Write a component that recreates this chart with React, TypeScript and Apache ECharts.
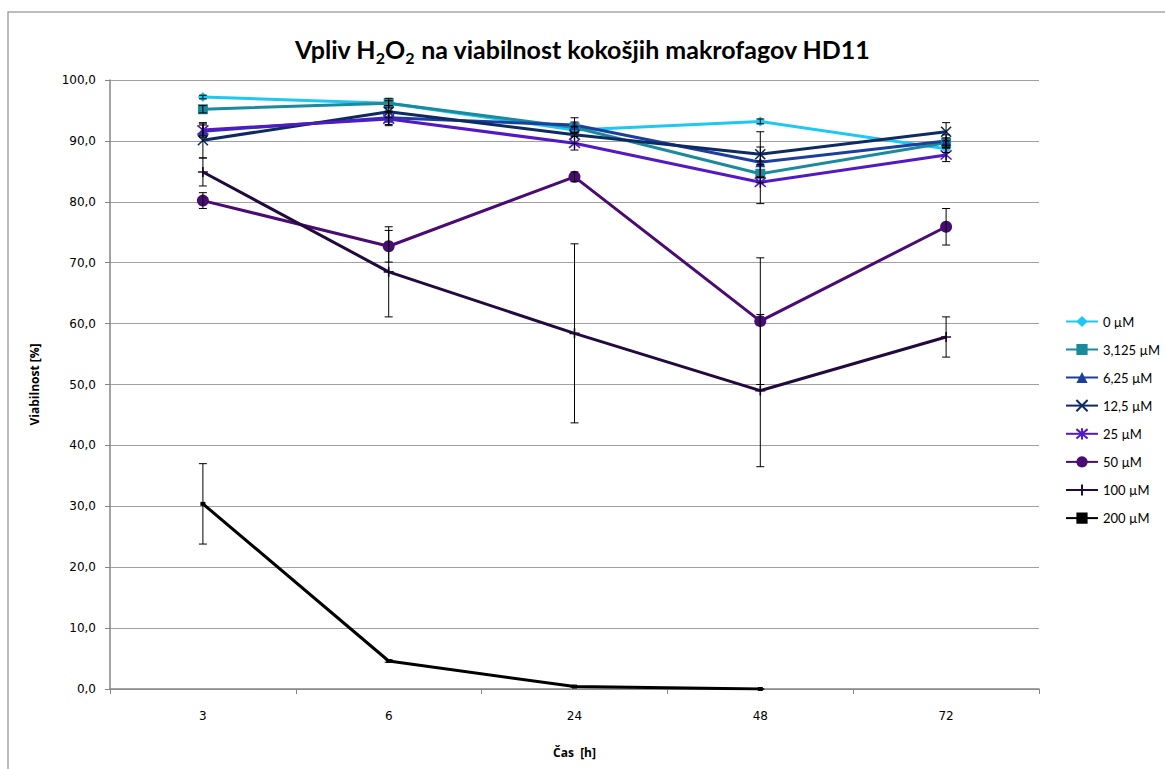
import React, { useEffect, useRef } from "react";
import * as echarts from "echarts";

const categories = ["3", "6", "24", "48", "72"];
const seriesNames = ["0 µM", "3,125 µM", "6,25 µM", "12,5 µM", "25 µM", "50 µM", "100 µM", "200 µM"];

const v0 = [97.2, 96.2, 91.8, 93.2, 88.7];
const v3125 = [95.2, 96.2, 92.2, 84.6, 89.7];
const v625 = [91.6, 93.8, 92.6, 86.5, 90.0];
const v125 = [90.1, 94.8, 91.0, 87.8, 91.5];
const v25 = [91.8, 93.6, 89.6, 83.2, 87.7];
const v50 = [80.2, 72.7, 84.1, 60.4, 75.9];
const v100 = [84.9, 68.5, 58.4, 49.0, 57.8];
const v200 = [30.4, 4.6, 0.4, 0.0, null];

const e0 = [0.3, 0.4, 0.5, 0.4, 0.6];
const e3125 = [0.6, 0.8, 0.9, 1.5, 0.8];
const e625 = [1.0, 1.1, 1.2, 2.5, 1.0];
const e125 = [2.9, 1.0, 1.4, 3.7, 1.5];
const e25 = [1.0, 1.1, 1.1, 3.5, 1.1];
const e50 = [1.3, 2.6, 0.8, 10.4, 3.0];
const e100 = [2.3, 7.4, 14.7, 12.5, 3.3];
const e200 = [6.6, 0.2, 0.1, 0.0, null];

const yTicks = [0, 10, 20, 30, 40, 50, 60, 70, 80, 90, 100];

const values = [v0, v3125, v625, v125, v25, v50, v100, v200];
const errors = [e0, e3125, e625, e125, e25, e50, e100, e200];

const colors = ["#1dc8f3", "#1a8a9c", "#1c3e9e", "#0e2a62", "#5219c4", "#4a0c72", "#220a3e", "#000000"];
const symbols = [
  "diamond",
  "rect",
  "triangle",
  "path://M0,0L10,10M10,0L0,10",
  "path://M0,0L10,10M10,0L0,10M5,-1L5,11",
  "circle",
  "path://M5,0L5,10M0,5L10,5",
  "rect",
];
const symbolSizes: any[] = [10, 10, 10, 10, 11, 12, 10, [5, 4]];

export default function App() {
  const ref = useRef<HTMLDivElement>(null);
  useEffect(() => {
    if (!ref.current) return;
    const chart = echarts.init(ref.current, undefined, { renderer: "svg" });

    const lineSeries = seriesNames.map((name, i) => {
      const isPath = String(symbols[i]).startsWith("path://");
      return {
        name,
        type: "line",
        data: values[i],
        symbol: symbols[i],
        symbolSize: symbolSizes[i],
        showSymbol: true,
        connectNulls: false,
        lineStyle: { color: colors[i], width: 3 },
        itemStyle: {
          color: colors[i],
          borderColor: colors[i],
          borderWidth: isPath ? 1.6 : 0,
        },
        z: 2,
      };
    });

    const errData: any[] = [];
    values.forEach((vals, si) => {
      vals.forEach((v, ci) => {
        const e = errors[si][ci];
        if (v === null || e === null || e === undefined) return;
        errData.push([ci, (v as number) - e, (v as number) + e]);
      });
    });

    const option: any = {
      animation: false,
      backgroundColor: "#ffffff",
      title: {
        text: "{a|Vpliv H}{s|2}{a|O}{s|2}{a| na viabilnost kokošjih makrofagov HD11}",
        left: "center",
        top: 24,
        textStyle: {
          rich: {
            a: { fontFamily: "Lato", fontWeight: "bold", fontSize: 25, color: "#000", lineHeight: 32, verticalAlign: "bottom" },
            s: { fontFamily: "Lato", fontWeight: "bold", fontSize: 16, color: "#000", lineHeight: 32, verticalAlign: "bottom", padding: [0, 0, -4, 0] },
          },
        },
      },
      legend: {
        orient: "vertical",
        left: 1060,
        top: 310,
        itemWidth: 32,
        itemHeight: 14,
        itemGap: 15,
        data: seriesNames,
        textStyle: { fontFamily: "Lato", fontSize: 13, color: "#000" },
      },
      grid: { left: 110, right: 126, top: 80, bottom: 80, containLabel: false },
      xAxis: {
        type: "category",
        data: categories,
        boundaryGap: true,
        name: "Čas  [h]",
        nameLocation: "middle",
        nameGap: 57,
        nameTextStyle: { fontFamily: "Open Sans", fontWeight: "bold", fontSize: 12, color: "#000" },
        axisLine: { lineStyle: { color: "#868686", width: 1.5 } },
        axisTick: { show: true, interval: 0, length: 5, lineStyle: { color: "#868686" } },
        axisLabel: { fontFamily: "DejaVu Sans", fontSize: 12, color: "#000", margin: 21 },
        splitLine: { show: false },
      },
      yAxis: {
        type: "value",
        min: 0,
        max: 100,
        interval: 10,
        name: "Viabilnost [%]",
        nameLocation: "middle",
        nameGap: 70,
        nameRotate: 90,
        nameTextStyle: { fontFamily: "Open Sans", fontWeight: "bold", fontSize: 12, color: "#000" },
        axisLine: { show: true, lineStyle: { color: "#868686", width: 1.5 } },
        axisTick: { show: true, length: 5, lineStyle: { color: "#868686" } },
        axisLabel: {
          fontFamily: "DejaVu Sans",
          fontSize: 12,
          color: "#000",
          margin: 14,
          formatter: (v: number) => (yTicks.includes(v) ? v.toFixed(1).replace(".", ",") : ""),
        },
        splitLine: { show: true, lineStyle: { color: "#a0a0a0", width: 1 } },
      },
      graphic: [
        {
          type: "rect",
          shape: { x: 8, y: 12, width: 1300, height: 900 },
          style: { fill: "none", stroke: "#a6a6a6", lineWidth: 1.5 },
          silent: true,
          z: -10,
        },
      ],
      series: [
        ...lineSeries,
        {
          type: "custom",
          name: "err",
          data: errData,
          encode: { x: 0, y: [1, 2] },
          z: 5,
          silent: true,
          renderItem: (params: any, api: any) => {
            const x = api.value(0);
            const lo = api.coord([x, api.value(1)]);
            const hi = api.coord([x, api.value(2)]);
            const w = 4;
            const style = { stroke: "#000", lineWidth: 1 };
            return {
              type: "group",
              children: [
                { type: "line", shape: { x1: lo[0], y1: lo[1], x2: hi[0], y2: hi[1] }, style },
                { type: "line", shape: { x1: lo[0] - w, y1: lo[1], x2: lo[0] + w, y2: lo[1] }, style },
                { type: "line", shape: { x1: hi[0] - w, y1: hi[1], x2: hi[0] + w, y2: hi[1] }, style },
              ],
            };
          },
        },
      ],
    };
    chart.setOption(option);
    return () => chart.dispose();
  }, []);
  return (
    <div
      ref={ref}
      style={{ position: "fixed", left: 0, top: 0, width: 1165, height: 769, background: "#fff" }}
    />
  );
}
